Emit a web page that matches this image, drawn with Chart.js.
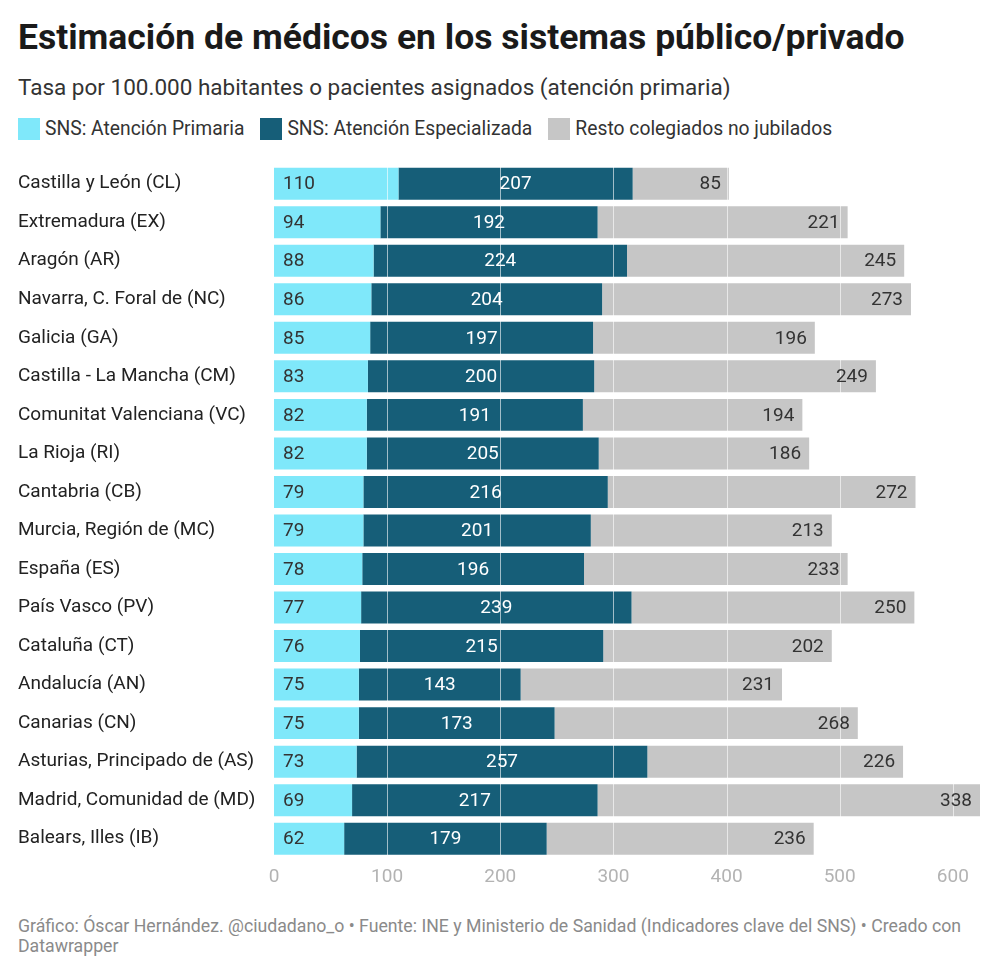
<!DOCTYPE html>
<html>
<head>
<meta charset="utf-8">
<script src="https://cdn.jsdelivr.net/npm/chart.js@4.4.1/dist/chart.umd.min.js"></script>
<style>
  body { margin: 0; background: #fff; font-family: Roboto, sans-serif; }
  .wrap { position: relative; width: 1000px; height: 976px; }
  h1 { position: absolute; left: 18px; top: 16px; margin: 0; font-size: 35.5px; line-height: 42px; font-weight: 700; color: #1a1a1a; white-space: nowrap; }
  .sub { position: absolute; left: 18px; top: 73px; font-size: 22.5px; line-height: 28px; color: #333; white-space: nowrap; }
  .legend { position: absolute; left: 18px; top: 117px; font-size: 19.3px; line-height: 24px; color: #333; display: flex; white-space: nowrap; }
  .legend span { display: flex; align-items: center; margin-right: 16px; }
  .legend i { display: inline-block; width: 22px; height: 22px; margin-right: 5px; }
  .chart { position: absolute; left: 0; top: 150px; width: 1000px; height: 750px; }
  .foot { position: absolute; left: 18px; top: 916px; width: 960px; font-size: 17.7px; line-height: 20px; color: #8a8a8a; }
</style>
</head>
<body>
<div class="wrap">
  <h1>Estimación de médicos en los sistemas público/privado</h1>
  <div class="sub">Tasa por 100.000 habitantes o pacientes asignados (atención primaria)</div>
  <div class="legend">
    <span><i style="background:#7fe8fa"></i>SNS: Atención Primaria</span>
    <span><i style="background:#165e78"></i>SNS: Atención Especializada</span>
    <span><i style="background:#c6c6c6"></i>Resto colegiados no jubilados</span>
  </div>
  <div class="chart"><canvas id="myChart" width="1000" height="750"></canvas></div>
  <div class="foot">Gráfico: Óscar Hernández. @ciudadano_o • Fuente: INE y Ministerio de Sanidad (Indicadores clave del SNS) • Creado con Datawrapper</div>
</div>
<script>
const regiones = [
  "Castilla y León (CL)", "Extremadura (EX)", "Aragón (AR)", "Navarra, C. Foral de (NC)",
  "Galicia (GA)", "Castilla - La Mancha (CM)", "Comunitat Valenciana (VC)", "La Rioja (RI)",
  "Cantabria (CB)", "Murcia, Región de (MC)", "España (ES)", "País Vasco (PV)",
  "Cataluña (CT)", "Andalucía (AN)", "Canarias (CN)", "Asturias, Principado de (AS)",
  "Madrid, Comunidad de (MD)", "Balears, Illes (IB)"
];
const primaria = [110, 94, 88, 86, 85, 83, 82, 82, 79, 79, 78, 77, 76, 75, 75, 73, 69, 62];
const especializada = [207, 192, 224, 204, 197, 200, 191, 205, 216, 201, 196, 239, 215, 143, 173, 257, 217, 179];
const resto = [85, 221, 245, 273, 196, 249, 194, 186, 272, 213, 233, 250, 202, 231, 268, 226, 338, 236];
const xTicks = [0, 100, 200, 300, 400, 500, 600];

// líneas de la cuadrícula encima de las barras + etiquetas
const barLabels = {
  id: "barLabels",
  afterDatasetsDraw(chart) {
    const ctx = chart.ctx;
    const xs = chart.scales.x;
    const area = chart.chartArea;
    ctx.save();
    ctx.strokeStyle = "rgba(255,255,255,0.6)";
    ctx.lineWidth = 1;
    xTicks.forEach(function (t) {
      if (t === 0) return;
      const px = Math.round(xs.getPixelForValue(t)) + 0.5;
      ctx.beginPath();
      ctx.moveTo(px, area.top);
      ctx.lineTo(px, area.bottom);
      ctx.stroke();
    });

    ctx.font = "19px Roboto";
    ctx.textBaseline = "middle";
    chart.data.datasets.forEach(function (ds, i) {
      const meta = chart.getDatasetMeta(i);
      meta.data.forEach(function (bar, j) {
        const v = ds.data[j];
        if (i === 0) {
          ctx.fillStyle = "#333";
          ctx.textAlign = "left";
          ctx.fillText(v, bar.base + 9, bar.y + 1);
        } else if (i === 1) {
          ctx.fillStyle = "#fff";
          ctx.textAlign = "center";
          ctx.fillText(v, (bar.base + bar.x) / 2, bar.y + 1);
        } else {
          ctx.fillStyle = "#333";
          ctx.textAlign = "right";
          ctx.fillText(v, bar.x - 8, bar.y + 1);
        }
      });
    });
    ctx.restore();
  }
};

const ctx = document.getElementById("myChart").getContext("2d");
const myChart = new Chart(ctx, {
  type: "bar",
  data: {
    labels: regiones,
    datasets: [
      { label: "SNS: Atención Primaria", data: primaria, backgroundColor: "#7fe8fa" },
      { label: "SNS: Atención Especializada", data: especializada, backgroundColor: "#165e78" },
      { label: "Resto colegiados no jubilados", data: resto, backgroundColor: "#c6c6c6" }
    ]
  },
  options: {
    indexAxis: "y",
    responsive: false,
    animation: false,
    maintainAspectRatio: false,
    layout: { padding: { left: 18, right: 20, top: 9.5, bottom: 4 } },
    datasets: { bar: { categoryPercentage: 1, barPercentage: 0.83, borderWidth: 0 } },
    plugins: { legend: { display: false }, title: { display: false }, tooltip: { enabled: false } },
    scales: {
      x: {
        stacked: true,
        min: 0,
        max: 624,
        border: { display: false },
        grid: { display: false },
        afterBuildTicks: function (scale) {
          scale.ticks = xTicks.map(function (v) { return { value: v }; });
        },
        afterFit: function (scale) { scale.height = 38; },
        ticks: {
          autoSkip: false,
          padding: 0,
          maxRotation: 0,
          color: "#b3b3b3",
          font: { family: "Roboto", size: 19 }
        }
      },
      y: {
        stacked: true,
        border: { display: false },
        grid: { display: false },
        afterFit: function (scale) { scale.width = 256; },
        ticks: {
          crossAlign: "far",
          autoSkip: false,
          color: "#222",
          font: { family: "Roboto", size: 19 }
        }
      }
    }
  },
  plugins: [barLabels]
});
</script>
</body>
</html>
